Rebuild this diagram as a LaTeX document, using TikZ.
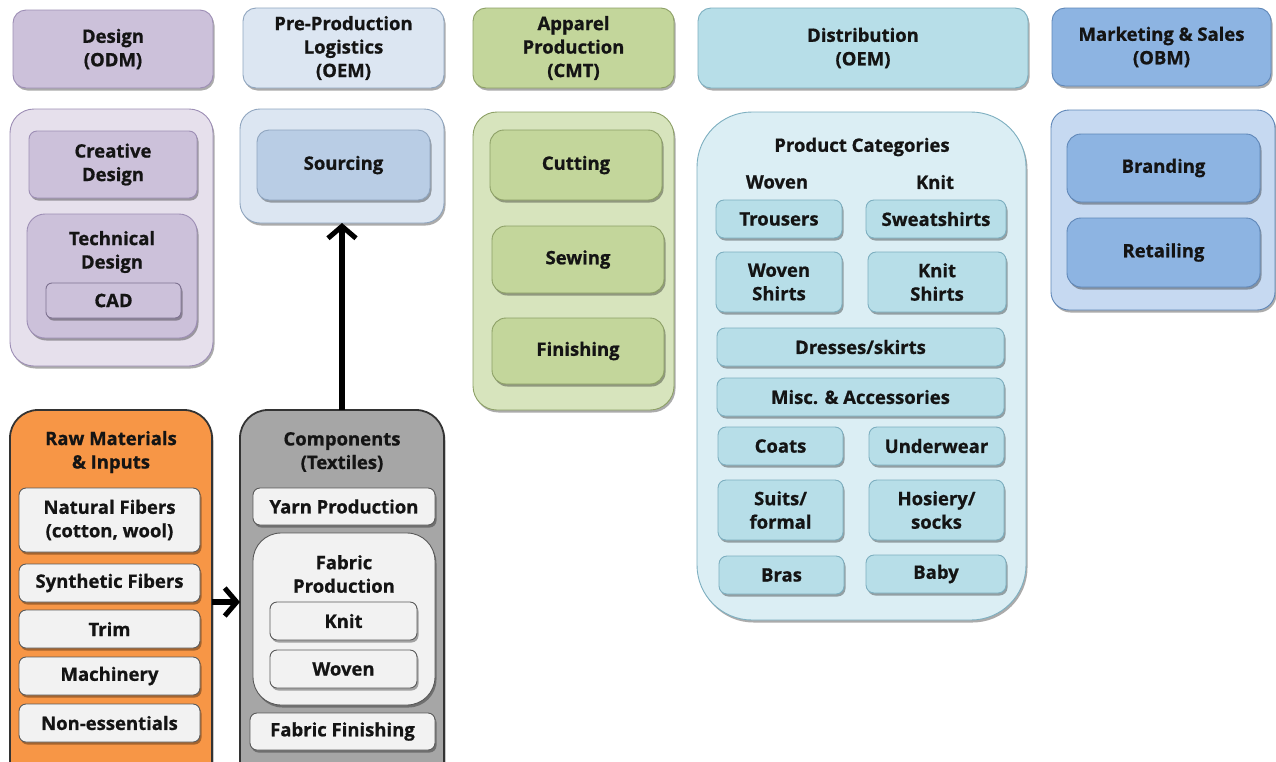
\documentclass[tikz,border=0pt]{standalone}
\usepackage{fontspec}
\setmainfont{Open Sans}[BoldFeatures={FakeBold=0.8}]
\usetikzlibrary{arrows.meta,shadows}

% fill and border colours per stage
\definecolor{desH}{HTML}{CCC1DA}\definecolor{desB}{HTML}{9D8EB5}\definecolor{desC}{HTML}{E6E0EC}
\definecolor{preH}{HTML}{DCE6F2}\definecolor{preB}{HTML}{8FA5BF}\definecolor{preI}{HTML}{B9CDE5}
\definecolor{appH}{HTML}{C3D69B}\definecolor{appB}{HTML}{8DA066}\definecolor{appC}{HTML}{D7E4BD}
\definecolor{disH}{HTML}{B7DEE8}\definecolor{disB}{HTML}{7DAFC0}\definecolor{disC}{HTML}{DBEEF4}
\definecolor{mktH}{HTML}{8DB4E2}\definecolor{mktB}{HTML}{5F87B8}\definecolor{mktC}{HTML}{C6D9F1}
\definecolor{rawH}{HTML}{F79646}\definecolor{cmpH}{HTML}{A6A6A6}
\definecolor{paleG}{HTML}{F2F2F2}\definecolor{ink}{HTML}{141414}

% box with corners given as x1 y1 x2 y2
\newcommand\rbox[7]{%
  \pgfmathsetmacro\rbcx{(#3+#5)/2}\pgfmathsetmacro\rbcy{(#4+#6)/2}%
  \pgfmathsetmacro\rbww{#5-#3}\pgfmathsetmacro\rbhh{#6-#4}%
  \node[#1, minimum width=\rbww pt, minimum height=\rbhh pt] (#2) at (\rbcx,\rbcy) {#7};}

\begin{document}
\begin{tikzpicture}[x=1pt,y=-1pt,
  every node/.style={inner sep=0pt, outer sep=0pt, align=center, text=ink,
    font=\fontsize{18.5}{23.5}\selectfont\bfseries},
  shad/.style={drop shadow={shadow xshift=1.5pt, shadow yshift=-2.5pt, opacity=0.33, fill=black}},
  bx/.style={draw=#1, line width=0.9pt, rounded corners=8pt, shad},
  hdr/.style={draw=#1, line width=0.9pt, rounded corners=13pt, shad},
  cont/.style={draw=#1, line width=0.9pt, rounded corners=24pt, shad},
  darkc/.style={draw=black!80, line width=1.8pt, rounded corners=28pt, shad},
  plain/.style={draw=black!65, line width=0.9pt, rounded corners=7pt, fill=paleG, shad},
  arr/.style={line width=5.5pt, -{Straight Barb[length=12pt,width=28pt,line width=5pt]}}]
\clip (0,0) rectangle (1276,761);
\fill[white] (0,0) rectangle (1276,761);

% stage headers
\rbox{hdr=desB, fill=desH}{hdes}{13}{10}{213}{88}{Design\\(ODM)}
\rbox{hdr=preB, fill=preH}{hpre}{243}{8}{444}{88}{\fontsize{18.5}{22.5}\selectfont Pre-Production\\Logistics\\(OEM)}
\rbox{hdr=appB, fill=appH}{happ}{473}{8}{674}{88}{\fontsize{18.5}{22.5}\selectfont Apparel\\Production\\(CMT)}
\rbox{hdr=disB, fill=disH}{hdis}{698}{8}{1028}{88}{Distribution\\(OEM)}
\rbox{hdr=mktB, fill=mktH}{hmkt}{1052}{8}{1271}{86}{Marketing \& Sales\\(OBM)}

% design
\rbox{cont=desB, fill=desC}{des}{10}{109}{213}{366}{}
\rbox{bx=desB, fill=desH}{cre}{29}{131}{197}{198}{Creative\\Design}
\rbox{cont=desB, fill=desH, rounded corners=18pt}{tec}{27}{214}{197}{338}{}
\node (tect) at (112,252) {Technical\\Design};
\rbox{bx=desB!80!black, fill=desH, rounded corners=6pt}{cad}{46}{283}{181}{318}{CAD}

% pre-production logistics
\rbox{cont=preB, fill=preH, rounded corners=20pt}{pre}{240}{109}{444}{223}{}
\rbox{bx=preB, fill=preI, rounded corners=12pt}{src}{257}{130}{430}{200}{Sourcing}

% apparel production
\rbox{cont=appB, fill=appC}{app}{473}{112}{674}{410}{}
\rbox{bx=appB, fill=appH, rounded corners=14pt}{cut}{490}{130}{662}{200}{Cutting}
\rbox{bx=appB, fill=appH, rounded corners=14pt}{sew}{492}{226}{664}{293}{Sewing}
\rbox{bx=appB, fill=appH, rounded corners=14pt}{fin}{492}{318}{664}{384}{Finishing}

% distribution
\rbox{cont=disB, fill=disC, rounded corners=55pt}{dis}{697}{112}{1026}{620}{}
\node (pcat) at (862,147) {Product Categories};
\node (wovh) at (777,182) {Woven};
\node (knih) at (935,182) {Knit};
\rbox{bx=disB, fill=disH}{trs}{716}{200}{842}{238}{Trousers}
\rbox{bx=disB, fill=disH}{swt}{866}{200}{1006}{238}{Sweatshirts}
\rbox{bx=disB, fill=disH}{wsh}{716}{252}{842}{312}{Woven\\Shirts}
\rbox{bx=disB, fill=disH}{ksh}{868}{252}{1006}{312}{Knit\\Shirts}
\rbox{bx=disB, fill=disH}{drs}{717}{328}{1004}{366}{Dresses/skirts}
\rbox{bx=disB, fill=disH}{msc}{717}{378}{1004}{416}{Misc. \& Accessories}
\rbox{bx=disB, fill=disH}{cts}{718}{427}{843}{465}{Coats}
\rbox{bx=disB, fill=disH}{und}{869}{427}{1004}{465}{Underwear}
\rbox{bx=disB, fill=disH}{sui}{718}{480}{843}{540}{Suits/\\formal}
\rbox{bx=disB, fill=disH}{hos}{869}{480}{1004}{540}{Hosiery/\\socks}
\rbox{bx=disB, fill=disH}{bra}{719}{556}{844}{594}{Bras}
\rbox{bx=disB, fill=disH}{bab}{866}{555}{1006}{593}{Baby}

% marketing and sales
\rbox{cont=mktB, fill=mktC, rounded corners=18pt}{mkt}{1051}{110}{1275}{310}{}
\rbox{bx=mktB, fill=mktH, rounded corners=14pt}{brd}{1067}{134}{1260}{202}{Branding}
\rbox{bx=mktB, fill=mktH, rounded corners=14pt}{ret}{1067}{218}{1260}{287}{Retailing}

% raw materials and inputs
\rbox{darkc, fill=rawH}{raw}{10}{410}{212}{794}{}
\node (rawt) at (111,452) {Raw Materials\\\& Inputs};
\rbox{plain}{nat}{19}{488}{200}{552}{Natural Fibers\\(cotton, wool)}
\rbox{plain}{syn}{19}{564}{200}{602}{Synthetic Fibers}
\rbox{plain}{trm}{19}{610}{200}{648}{Trim}
\rbox{plain}{mch}{19}{657}{200}{695}{Machinery}
\rbox{plain}{nes}{19}{704}{200}{742}{Non-essentials}

% components (textiles)
\rbox{darkc, fill=cmpH}{cmp}{240}{410}{444}{794}{}
\node (cmpt) at (342,452) {Components\\(Textiles)};
\rbox{plain}{yrn}{253}{488}{435}{525}{Yarn Production}
\rbox{plain, rounded corners=28pt}{fab}{253}{533}{435}{705}{}
\node (fabt) at (344,574) {Fabric\\Production};
\rbox{plain}{kni}{270}{602}{417}{640}{Knit}
\rbox{plain}{wov}{270}{650}{417}{688}{Woven}
\rbox{plain}{ffn}{250}{713}{435}{750}{Fabric Finishing}

% flow arrows
\draw[arr] (cmp.north) -- (pre.south);
\draw[arr] (raw.east) -- (cmp.west);
\end{tikzpicture}
\end{document}
